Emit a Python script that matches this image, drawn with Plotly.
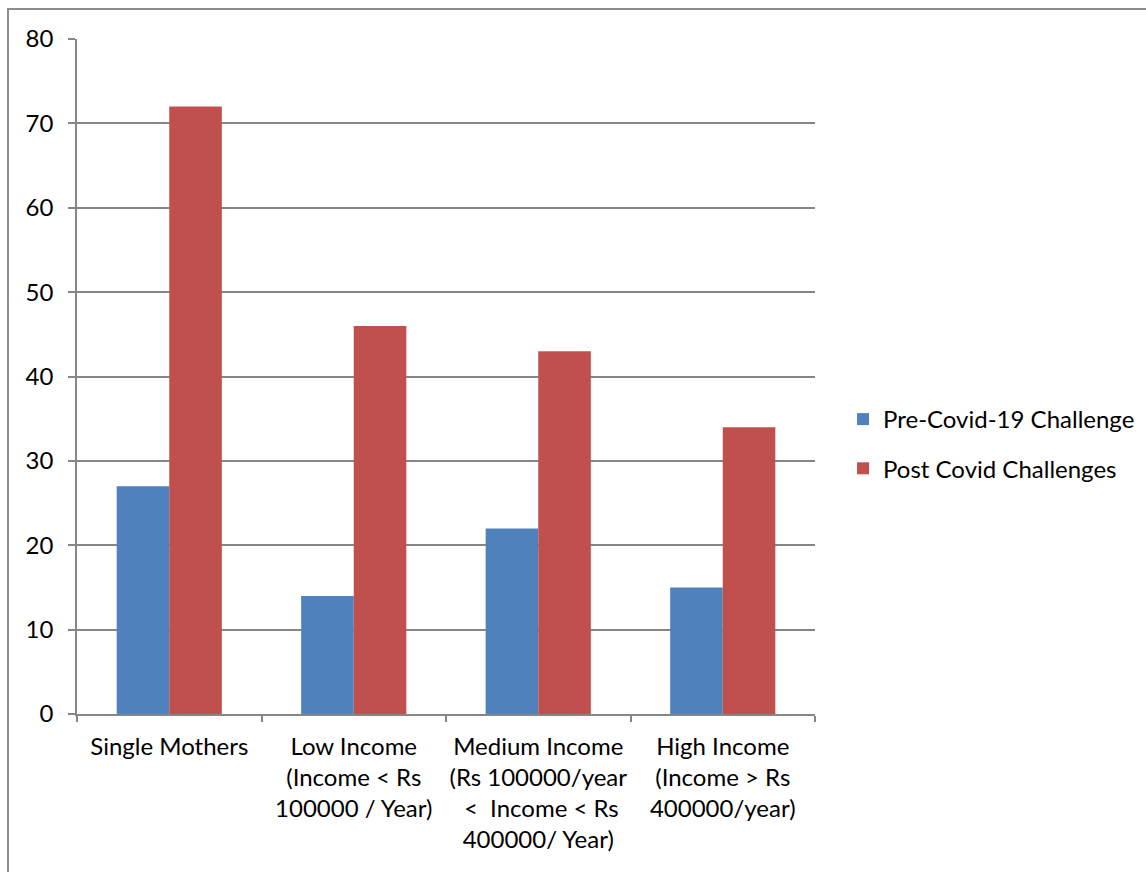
import plotly.graph_objects as go

categories = [
    "Single Mothers",
    "Low Income<br>(Income < Rs<br>100000 / Year)",
    "Medium Income<br>(Rs 100000/year<br> <  Income < Rs<br>400000/ Year)",
    "High Income<br>(Income > Rs<br>400000/year)",
]
pre_covid = [27, 14, 22, 15]
post_covid = [72, 46, 43, 34]
series_names = ["Pre-Covid-19 Challenge", "Post Covid Challenges"]
colors = ["#4F81BD", "#C0504D"]
y_ticks = [0, 10, 20, 30, 40, 50, 60, 70, 80]

FONT = "Lato, Carlito, Calibri, sans-serif"
GRID = "#868686"

fig = go.Figure()
for name, vals, col in zip(series_names, [pre_covid, post_covid], colors):
    fig.add_trace(go.Bar(
        x=categories, y=vals, name=name, marker_color=col,
        marker_line_width=0, legendgroup=name,
    ))

fig.update_layout(
    width=1146, height=872,
    margin=dict(l=77, r=331, t=39, b=158, autoexpand=False),
    paper_bgcolor="white", plot_bgcolor="white",
    barmode="group", bargap=0.43, bargroupgap=0,
    font=dict(family=FONT, size=24, color="black"),
    showlegend=True,
    legend=dict(
        x=1.038, y=0.40, xanchor="left", yanchor="middle",
        font=dict(family=FONT, size=24, color="black"),
        tracegroupgap=15, itemwidth=30,
        bgcolor="rgba(0,0,0,0)",
    ),
    xaxis=dict(
        type="category", tickson="boundaries", tickangle=0, automargin=False,
        ticks="outside", ticklen=6, tickcolor=GRID, tickwidth=1.5,
        showline=True, linecolor=GRID, linewidth=1.5,
        showgrid=False, tickfont=dict(size=24),
        ticklabelstandoff=10,
    ),
    yaxis=dict(
        range=[0, 80], tickvals=y_ticks, automargin=False,
        ticks="outside", ticklen=7, tickcolor=GRID, tickwidth=1.5,
        showline=True, linecolor=GRID, linewidth=1.5,
        showgrid=True, gridcolor=GRID, gridwidth=1.5,
        zeroline=False, tickfont=dict(size=24),
        ticklabelstandoff=10,
    ),
)

fig.add_shape(
    type="rect", xref="paper", yref="paper",
    x0=-0.0935, y0=-1.0, x1=2.0, y1=1.0444,
    line=dict(color="#8c8c8c", width=2), fillcolor="rgba(0,0,0,0)",
    layer="below",
)

fig.write_html("out.html")
